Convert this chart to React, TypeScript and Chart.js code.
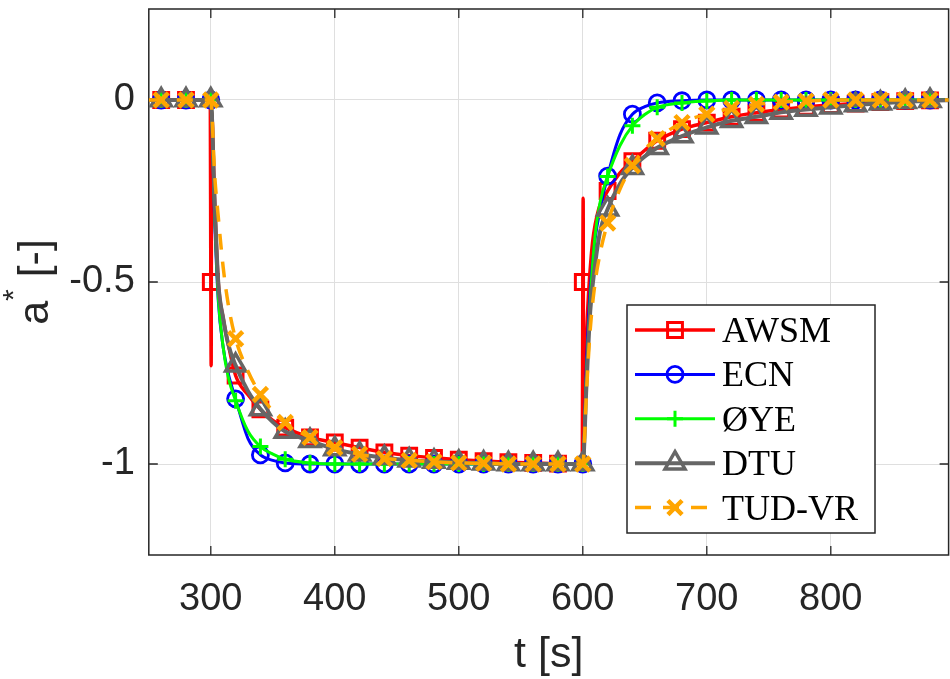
import React, { useEffect, useRef } from 'react';
import { Chart, registerables } from 'chart.js';
import { drawPoint } from 'chart.js/helpers';

Chart.register(...registerables);

// ---- data ----
const timeCommon = [250, 260, 280, 300, 303, 306, 310, 314, 320, 330, 340, 350, 360, 380, 400, 420, 440, 460, 480, 500, 520, 540, 560, 580, 600, 603, 606, 610, 614, 620, 630, 640, 650, 660, 680, 700, 720, 740, 760, 780, 800, 820, 840, 860, 880, 900];

const awsmTime = [250, 260, 280, 299.6, 300, 300.3, 300.6, 303, 306, 310, 314, 320, 330, 340, 350, 360, 380, 400, 420, 440, 460, 480, 500, 520, 540, 560, 580, 599.6, 600, 600.3, 600.6, 603, 607, 612, 620, 630, 640, 650, 660, 680, 700, 720, 740, 760, 780, 800, 820, 840, 860, 880, 900];
const awsmValues = [0, 0, 0, 0, -0.5, -0.73, -0.03, -0.27, -0.5, -0.6, -0.67, -0.757, -0.81, -0.85, -0.88, -0.9, -0.927, -0.941, -0.955, -0.968, -0.977, -0.983, -0.988, -0.992, -0.995, -0.997, -0.999, -1, -0.5, -0.27, -0.97, -0.65, -0.42, -0.31, -0.25, -0.2, -0.168, -0.138, -0.112, -0.08, -0.062, -0.046, -0.035, -0.026, -0.019, -0.014, -0.01, -0.006, -0.003, -0.001, 0];

const ecnValues = [0, 0, 0, 0, -0.32, -0.55, -0.68, -0.75, -0.821, -0.93, -0.975, -0.99, -0.997, -1, -1, -1, -1, -1, -1, -1, -1, -1, -1, -1, -1, -0.72, -0.52, -0.38, -0.3, -0.209, -0.095, -0.039, -0.018, -0.008, -0.002, 0, 0, 0, 0, 0, 0, 0, 0, 0, 0, 0];
const oyeValues = [0, 0, 0, 0, -0.3, -0.54, -0.68, -0.76, -0.826, -0.91, -0.952, -0.973, -0.987, -0.997, -1, -1, -1, -1, -1, -1, -1, -1, -1, -1, -1, -0.75, -0.55, -0.37, -0.28, -0.21, -0.125, -0.071, -0.04, -0.02, -0.008, -0.003, 0, 0, 0, 0, 0, 0, 0, 0, 0, 0];
const dtuValues = [0, 0, 0, 0, -0.27, -0.5, -0.6, -0.67, -0.729, -0.8, -0.849, -0.885, -0.911, -0.936, -0.959, -0.973, -0.983, -0.99, -0.993, -0.996, -0.998, -1, -1, -1, -1, -0.78, -0.58, -0.45, -0.36, -0.3, -0.23, -0.186, -0.155, -0.131, -0.099, -0.075, -0.057, -0.046, -0.034, -0.026, -0.02, -0.014, -0.009, -0.005, -0.002, 0];
const tudValues = [0, 0, 0, 0, -0.2, -0.32, -0.46, -0.56, -0.656, -0.745, -0.809, -0.855, -0.886, -0.927, -0.955, -0.973, -0.985, -0.99, -0.994, -0.997, -0.998, -1, -1, -1, -1, -0.8, -0.63, -0.5, -0.42, -0.338, -0.245, -0.18, -0.135, -0.106, -0.062, -0.039, -0.023, -0.012, -0.006, -0.003, 0, 0, 0, 0, 0, 0];

const seriesLabels = ['AWSM', 'ECN', 'ØYE', 'DTU', 'TUD-VR'];
const xTickValues = [300, 400, 500, 600, 700, 800];
const yTickValues = [-1, -0.5, 0];
const markerStep = 20;
const markerFirst = 260;
const markerLast = 880;

// ---- styles ----
const seriesStyles = [
  { color: '#ff0000', width: 3.5, dash: [] as number[], pointStyle: 'rect', radius: 10.5, pbw: 3 },
  { color: '#0000ff', width: 3, dash: [] as number[], pointStyle: 'circle', radius: 8, pbw: 2.8 },
  { color: '#00ff00', width: 3, dash: [] as number[], pointStyle: 'cross', radius: 8, pbw: 3 },
  { color: '#666666', width: 4, dash: [] as number[], pointStyle: 'triangle', radius: 11.5, pbw: 3.5 },
  { color: '#ffa500', width: 3.5, dash: [16, 12], pointStyle: 'crossRot', radius: 10, pbw: 4.5 },
];

const TEXT = '#262626';
const SANS = '"Liberation Sans", Arial, sans-serif';
const SERIF = '"Liberation Serif", "Times New Roman", serif';

const isMarkerTime = (t: number) =>
  t >= markerFirst && t <= markerLast && Math.abs(t % markerStep) < 1e-9;

const toPoints = (ts: number[], vs: number[]) => ts.map((t, i) => ({ x: t, y: vs[i] }));

const framePlugin = {
  id: 'frame',
  beforeDatasetsDraw(chart: any) {
    const { ctx, chartArea: a, scales } = chart;
    ctx.save();
    ctx.strokeStyle = TEXT;
    ctx.lineWidth = 1.5;
    ctx.strokeRect(a.left, a.top, a.right - a.left, a.bottom - a.top);
    const tl = 9;
    ctx.lineWidth = 1.3;
    ctx.beginPath();
    scales.x.ticks.forEach((t: any) => {
      const px = scales.x.getPixelForValue(t.value);
      ctx.moveTo(px, a.bottom); ctx.lineTo(px, a.bottom - tl);
      ctx.moveTo(px, a.top); ctx.lineTo(px, a.top + tl);
    });
    scales.y.ticks.forEach((t: any) => {
      const py = scales.y.getPixelForValue(t.value);
      ctx.moveTo(a.left, py); ctx.lineTo(a.left + tl, py);
      ctx.moveTo(a.right, py); ctx.lineTo(a.right - tl, py);
    });
    ctx.stroke();
    ctx.restore();
  },
  afterDraw(chart: any) {
    const { ctx, chartArea: a } = chart;
    ctx.save();
    // x title
    ctx.fillStyle = TEXT;
    ctx.font = `43px ${SANS}`;
    ctx.textAlign = 'center';
    ctx.textBaseline = 'alphabetic';
    ctx.fillText('t [s]', (a.left + a.right) / 2, 667);
    // y title: a^* [-]
    const big = `43px ${SANS}`;
    const small = `30px ${SANS}`;
    ctx.font = big;
    const wa = ctx.measureText('a').width;
    const wr = ctx.measureText(' [-]').width;
    ctx.font = small;
    const ws = ctx.measureText('*').width;
    const total = wa + ws + wr;
    const cy = (a.top + a.bottom) / 2;
    ctx.translate(48, cy + total / 2);
    ctx.rotate(-Math.PI / 2);
    ctx.textAlign = 'left';
    ctx.font = big;
    ctx.fillText('a', 0, 0);
    ctx.font = small;
    ctx.fillText('*', wa, -25);
    ctx.font = big;
    ctx.fillText(' [-]', wa + ws, 0);
    ctx.restore();

    // legend
    ctx.save();
    const bx = 627, by = 305, bw = 248, bh = 228;
    ctx.fillStyle = '#ffffff';
    ctx.fillRect(bx, by, bw, bh);
    ctx.strokeStyle = TEXT;
    ctx.lineWidth = 1.5;
    ctx.strokeRect(bx, by, bw, bh);
    seriesLabels.forEach((label, i) => {
      const st = seriesStyles[i];
      const y = 330 + i * 44.4;
      ctx.strokeStyle = st.color;
      ctx.lineWidth = st.width;
      ctx.setLineDash(st.dash);
      ctx.beginPath();
      ctx.moveTo(635, y);
      ctx.lineTo(715, y);
      ctx.stroke();
      ctx.setLineDash([]);
      ctx.fillStyle = 'rgba(0,0,0,0)';
      ctx.lineWidth = st.pbw;
      drawPoint(ctx, { pointStyle: st.pointStyle as any, rotation: 0, radius: st.radius, borderWidth: st.pbw }, 675, y);
      ctx.fillStyle = '#000000';
      ctx.font = `36px ${SERIF}`;
      ctx.textAlign = 'left';
      ctx.textBaseline = 'alphabetic';
      ctx.fillText(label, 722, y + 12);
    });
    ctx.restore();
  },
};

export default function App() {
  const ref = useRef<HTMLCanvasElement | null>(null);
  useEffect(() => {
    if (!ref.current) return;
    const seriesData = [
      toPoints(awsmTime, awsmValues),
      toPoints(timeCommon, ecnValues),
      toPoints(timeCommon, oyeValues),
      toPoints(timeCommon, dtuValues),
      toPoints(timeCommon, tudValues),
    ];
    const datasets = seriesLabels.map((label, i) => {
      const st = seriesStyles[i];
      return {
        label,
        data: seriesData[i],
        borderColor: st.color,
        borderWidth: st.width,
        borderDash: st.dash,
        backgroundColor: 'rgba(0,0,0,0)',
        fill: false,
        cubicInterpolationMode: 'monotone' as const,
        pointStyle: st.pointStyle,
        pointRadius: (c: any) => (c.raw && isMarkerTime(c.raw.x) ? st.radius : 0),
        pointHoverRadius: 0,
        pointBorderColor: st.color,
        pointBackgroundColor: 'rgba(0,0,0,0)',
        pointBorderWidth: st.pbw,
        order: seriesLabels.length - i,
      };
    });
    const chart = new Chart(ref.current, {
      type: 'line',
      data: { datasets: datasets as any },
      options: {
        responsive: false,
        animation: false,
        events: [],
        layout: { padding: { top: 9, right: 1.4, left: 0, bottom: 0 } },
        plugins: { legend: { display: false }, tooltip: { enabled: false } },
        scales: {
          x: {
            type: 'linear',
            min: 250,
            max: 895,
            afterBuildTicks: (s: any) => { s.ticks = xTickValues.map((v) => ({ value: v })); },
            afterFit: (s: any) => { s.height = 124; s.paddingLeft = 0; s.paddingRight = 0; },
            grid: { color: '#dfdfdf', lineWidth: 1, drawTicks: false },
            border: { display: false },
            ticks: {
              autoSkip: false,
              maxRotation: 0,
              padding: 22,
              color: TEXT,
              font: { family: SANS, size: 38 },
              callback: (v: any) => String(v),
            },
          },
          y: {
            type: 'linear',
            min: -1.25,
            max: 0.25,
            afterBuildTicks: (s: any) => { s.ticks = yTickValues.map((v) => ({ value: v })); },
            afterFit: (s: any) => { s.width = 148.8; s.paddingTop = 0; s.paddingBottom = 0; },
            grid: { color: '#dfdfdf', lineWidth: 1, drawTicks: false },
            border: { display: false },
            ticks: {
              autoSkip: false,
              padding: 14,
              color: TEXT,
              font: { family: SANS, size: 38 },
              callback: (v: any) => String(Math.round(v * 100) / 100),
            },
          },
        },
      },
      plugins: [framePlugin],
    });
    return () => chart.destroy();
  }, []);
  return (
    <canvas
      ref={ref}
      width={950}
      height={679}
      style={{ position: 'fixed', left: 0, top: 0, width: 950, height: 679 }}
    />
  );
}
